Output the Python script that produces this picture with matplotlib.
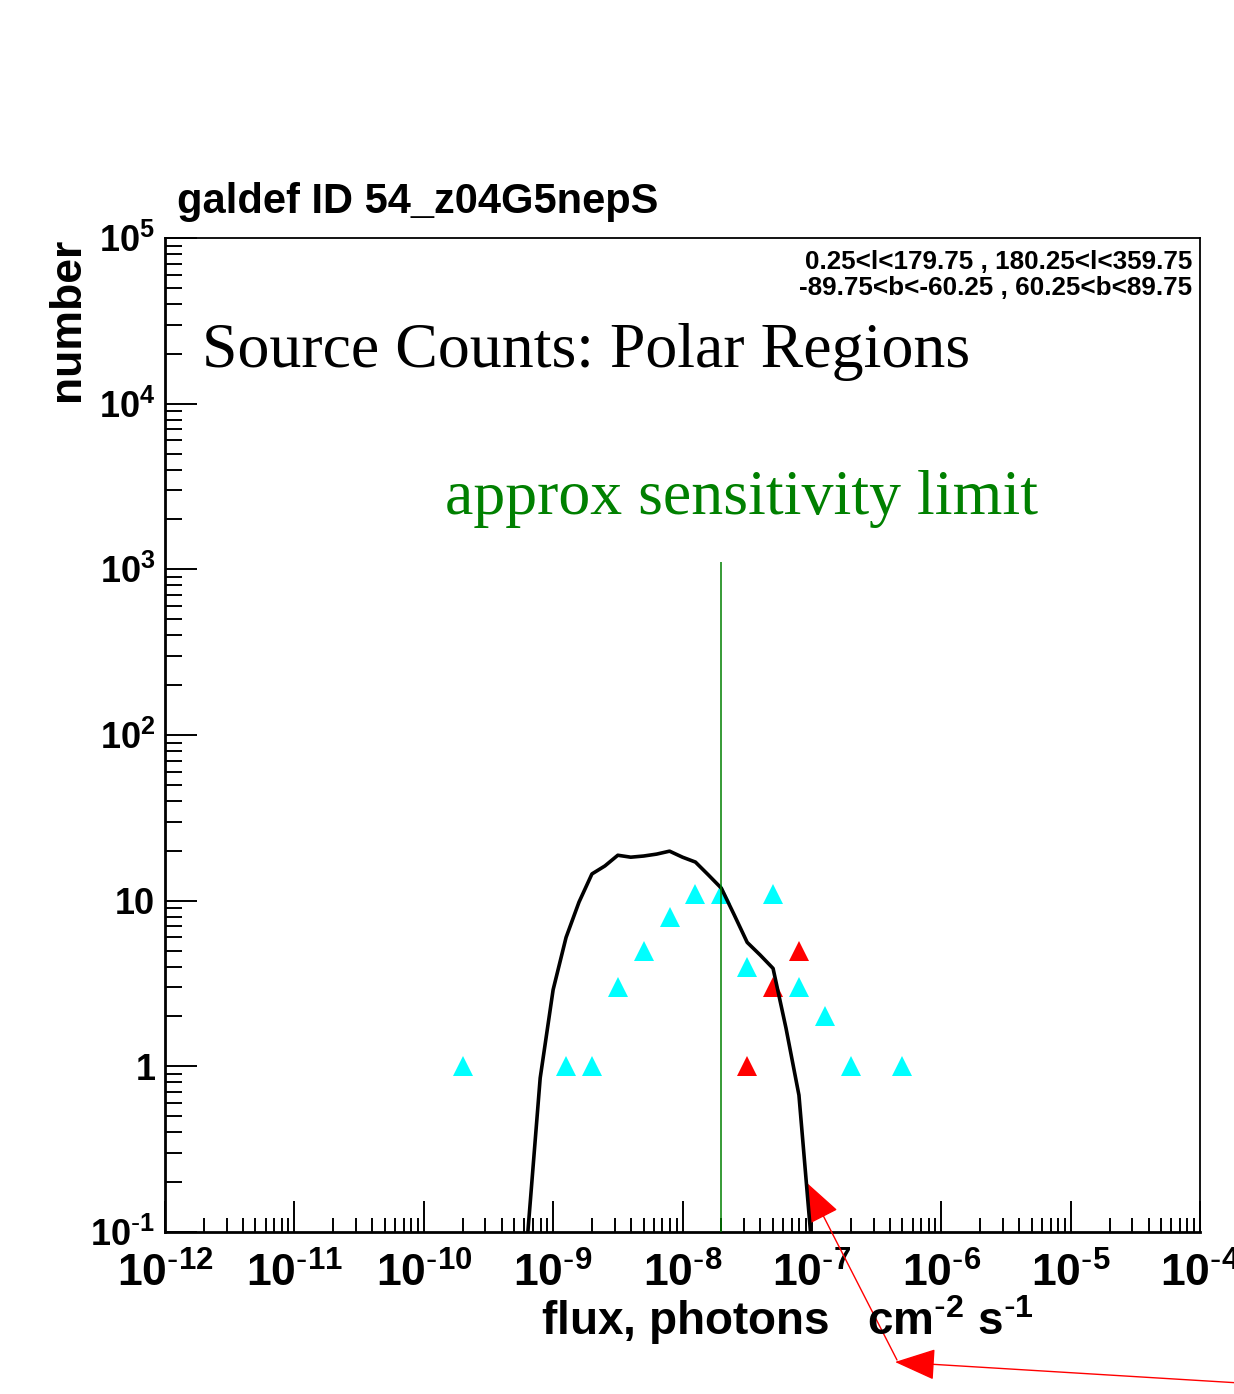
## Source counts plot for the polar regions (ROOT style look)
import numpy as np
import matplotlib
matplotlib.use("Agg")
import matplotlib.pyplot as plt

# observed counts per flux bin (log10 of bin centre flux)
cyan_logflux = [-9.7, -8.9, -8.7, -8.5, -8.3, -8.1, -7.9, -7.7, -7.5, -7.3, -7.1, -6.9, -6.7, -6.3]
cyan_number = [1, 1, 1, 3, 5, 8, 11, 11, 4, 11, 3, 2, 1, 1]

red_logflux = [-7.5, -7.3, -7.1]
red_number = [1, 3, 5]

# model curve
model_logflux = [-9.2, -9.1, -9.0, -8.9, -8.8, -8.7, -8.6, -8.5, -8.4, -8.3, -8.2, -8.1,
                 -8.0, -7.9, -7.8, -7.7, -7.6, -7.5, -7.4, -7.3, -7.2, -7.1, -7.0]
model_number = [0.09, 0.85, 2.9, 6.0, 9.8, 14.5, 16.2, 18.8, 18.3, 18.6, 19.1, 19.9,
                18.3, 17.1, 14.3, 11.9, 8.2, 5.6, 4.7, 3.9, 1.7, 0.67, 0.08]

sens_limit = 2e-8
sens_top = 1100

x_exps = [-12, -11, -10, -9, -8, -7, -6, -5, -4]
y_ticks = [0.1, 1, 10, 100, 1000, 1e4, 1e5]
y_labels = [r'$10^{\text{-}1}$', '1', '10', '$10^{2}$', '$10^{3}$', '$10^{4}$', '$10^{5}$']

plt.rcParams['font.family'] = ['Liberation Sans', 'DejaVu Sans']
plt.rcParams['mathtext.default'] = 'regular'

W, H = 1234, 1394
fig = plt.figure(figsize=(W / 100, H / 100), dpi=100)
ax = fig.add_axes([165 / W, 1 - 1232 / H, (1200 - 165) / W, (1232 - 238) / H])

def fx(x):
    return x / W

def fy(y):
    return 1 - y / H

ax.plot(10 ** np.array(cyan_logflux), cyan_number, '^', color='#00ffff',
        ms=15, mew=0, zorder=3)
ax.plot(10 ** np.array(red_logflux), red_number, '^', color='#ff0000',
        ms=15, mew=0, zorder=3)
ax.plot(10 ** np.array(model_logflux), model_number, '-', color='black', lw=2.6, zorder=4)
ax.vlines(sens_limit, 0.1, sens_top, color='#008000', lw=1.1, zorder=5)

ax.set_xscale('log')
ax.set_yscale('log')
ax.set_xlim(1e-12, 1e-4)
ax.set_ylim(0.1, 1e5)

ax.xaxis.set_major_locator(matplotlib.ticker.FixedLocator([10.0 ** e for e in x_exps]))
ax.xaxis.set_minor_locator(matplotlib.ticker.LogLocator(base=10, subs=np.arange(2, 10), numticks=50))
ax.yaxis.set_major_locator(matplotlib.ticker.FixedLocator(y_ticks))
ax.yaxis.set_minor_locator(matplotlib.ticker.LogLocator(base=10, subs=np.arange(2, 10), numticks=50))
ax.set_xticklabels([r'$10^{\text{-}%d}$' % -e for e in x_exps], fontsize=32, fontweight='bold')
ax.set_yticklabels(y_labels, fontsize=26, fontweight='bold')

ax.tick_params(which='both', direction='in', top=False, right=False, width=1.4)
ax.tick_params(axis='x', which='major', length=22, pad=15)
ax.tick_params(axis='x', which='minor', length=10)
ax.tick_params(axis='y', which='major', length=23, pad=7)
ax.tick_params(axis='y', which='minor', length=12)
for side in ['top', 'right']:
    ax.spines[side].set_linewidth(1.3)
for side in ['bottom', 'left']:
    ax.spines[side].set_linewidth(2.0)

# texts
fig.text(fx(177), fy(213), 'galdef ID 54_z04G5nepS', fontsize=30, fontweight='bold',
         ha='left', va='baseline')
fig.text(fx(1192), fy(269), '0.25<l<179.75 , 180.25<l<359.75', fontsize=18.7, fontweight='bold',
         ha='right', va='baseline')
fig.text(fx(1192), fy(295), '-89.75<b<-60.25 , 60.25<b<89.75', fontsize=18.7, fontweight='bold',
         ha='right', va='baseline')
fig.text(fx(202), fy(367), 'Source Counts: Polar Regions', fontsize=46,
         family=['Liberation Serif'], ha='left', va='baseline')
fig.text(fx(445), fy(514), 'approx sensitivity limit', fontsize=46, color='#008000',
         family=['Liberation Serif'], ha='left', va='baseline')
fig.text(fx(67), fy(238), 'number', fontsize=32, fontweight='bold', rotation=90,
         ha='center', va='top')
fig.text(fx(541), fy(1335), r'flux, photons   cm$^{\text{-}2}$ s$^{\text{-}1}$', fontsize=33,
         fontweight='bold', ha='left', va='baseline')

# red arrows
arrow = dict(arrowstyle='-|>,head_length=1.3,head_width=0.5', color='#ff0000', lw=1.0,
             mutation_scale=20, shrinkA=0, shrinkB=0)
ax.annotate('', xy=(895, H - 1362), xycoords='figure pixels',
            xytext=(1240, H - 1383), textcoords='figure pixels',
            arrowprops=arrow, annotation_clip=False)
ax.annotate('', xy=(806, H - 1182), xycoords='figure pixels',
            xytext=(897, H - 1360), textcoords='figure pixels',
            arrowprops=arrow, annotation_clip=False)

fig.savefig('out.png', dpi=100)
